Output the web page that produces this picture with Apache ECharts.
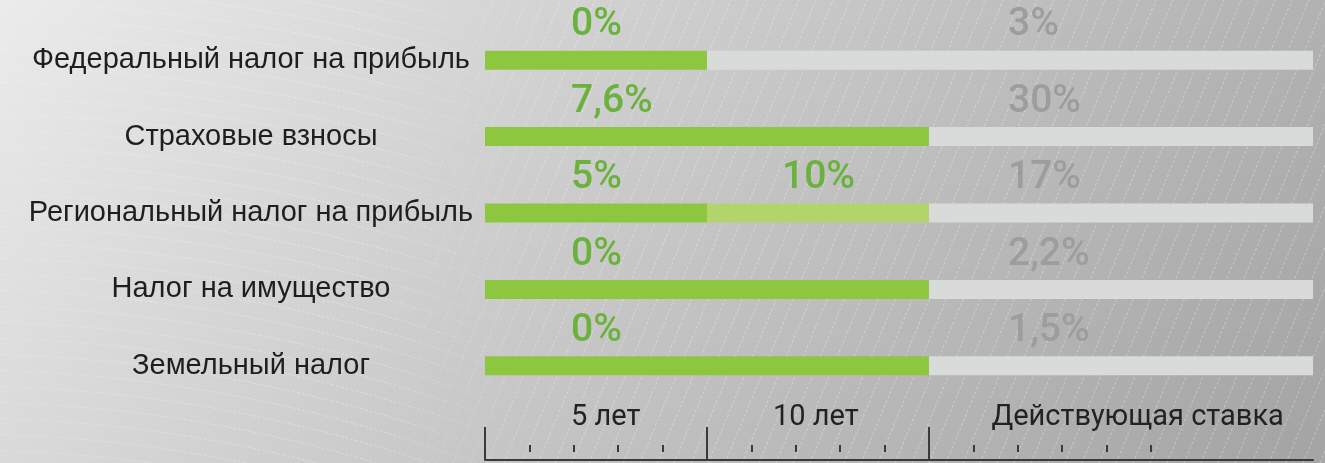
<!DOCTYPE html>
<html>
<head>
<meta charset="utf-8">
<script src="https://cdn.jsdelivr.net/npm/echarts@6/dist/echarts.min.js"></script>
<style>
  html, body { margin: 0; padding: 0; }
  #main { width: 1325px; height: 463px; }
</style>
</head>
<body>
<div id="main"></div>
<script>
// строки графика
var categories = ['Федеральный налог на прибыль', 'Страховые взносы', 'Региональный налог на прибыль', 'Налог на имущество', 'Земельный налог'];
// сколько лет действует льгота
var benefitYears = [5, 10, 10, 10, 10];
var firstRate = ['0%', '7,6%', '5%', '0%', '0%'];
var secondRate = ['', '', '10%', '', ''];
var currentRate = ['3%', '30%', '17%', '2,2%', '1,5%'];

// шкала в годах
var scaleEnd = 18.65;
var periodYears = [5, 5, scaleEnd - 10];
var majorTicks = [0, 5, 10];
var minorTicks = [1, 2, 3, 4, 6, 7, 8, 9, 11, 12, 13, 14, 15];
var periodLabels = ['5 лет', '10 лет', 'Действующая ставка'];
var periodLabelAt = [2.72, 7.45, 14.7];

var GREEN = '#8dc63f';
var LIGHT_GREEN = '#b3d46d';
var GRAY_BAR = '#d9dbda';
var GREEN_TEXT = '#6ab23c';
var GRAY_TEXT = '#9d9d9d';

var W = 1325, H = 463;

// фон: градиент, дуги слева и косая штриховка справа
var bg = document.createElement('canvas');
bg.width = W;
bg.height = H;
var ctx = bg.getContext('2d');
var grad = ctx.createLinearGradient(0, 0, W, H * 0.6);
grad.addColorStop(0, '#ebebeb');
grad.addColorStop(0.35, '#d6d6d6');
grad.addColorStop(0.7, '#c1c1c1');
grad.addColorStop(1, '#afafaf');
ctx.fillStyle = grad;
ctx.fillRect(0, 0, W, H);
var shade = ctx.createLinearGradient(0, 0, 0, H);
shade.addColorStop(0, 'rgba(0,0,0,0)');
shade.addColorStop(1, 'rgba(0,0,0,0.06)');
ctx.fillStyle = shade;
ctx.fillRect(0, 0, W, H);

ctx.lineWidth = 1;
ctx.setLineDash([3, 2]);
var arcStroke = ctx.createLinearGradient(0, 0, 520, 0);
arcStroke.addColorStop(0, 'rgba(255,255,255,0.2)');
arcStroke.addColorStop(0.7, 'rgba(255,255,255,0.35)');
arcStroke.addColorStop(1, 'rgba(255,255,255,0)');
ctx.strokeStyle = arcStroke;
for (var r = 1400; r < 1900; r += 16) {
  ctx.beginPath();
  ctx.arc(-40, 1850, r, -Math.PI / 2, -Math.PI / 2 + 0.4);
  ctx.stroke();
}

var hatchStroke = ctx.createLinearGradient(360, 0, 560, 0);
hatchStroke.addColorStop(0, 'rgba(255,255,255,0)');
hatchStroke.addColorStop(1, 'rgba(255,255,255,0.32)');
ctx.strokeStyle = hatchStroke;
for (var x0 = 300; x0 < W + 200; x0 += 17) {
  ctx.beginPath();
  ctx.moveTo(x0, H);
  ctx.lineTo(x0 + H / 2.4, 0);
  ctx.stroke();
}

var chart = echarts.init(document.getElementById('main'), null, { renderer: 'canvas' });

function stageData(stage) {
  return categories.map(function (c, i) {
    var color = GREEN;
    if (stage === 1) {
      if (benefitYears[i] < 10) color = GRAY_BAR;
      else if (secondRate[i]) color = LIGHT_GREEN;
    }
    if (stage === 2) color = GRAY_BAR;
    return { value: periodYears[stage], itemStyle: { color: color } };
  });
}

function rateLabel(arr, color, dx) {
  return {
    show: true,
    position: [dx, -25],
    align: 'left',
    verticalAlign: 'middle',
    fontFamily: 'Roboto',
    fontWeight: 500,
    fontSize: 39,
    color: color,
    formatter: function (p) { return arr[p.dataIndex]; }
  };
}

var option = {
  animation: false,
  graphic: [{
    type: 'image',
    silent: true,
    z: -10,
    style: { image: bg, x: 0, y: 0, width: W, height: H }
  }],
  grid: { left: 485, right: 12, top: 22, height: 382, containLabel: false },
  xAxis: [{
    type: 'value',
    position: 'bottom',
    min: 0,
    max: scaleEnd,
    offset: 56,
    splitLine: { show: false },
    axisLine: { show: true, lineStyle: { color: '#3a3a3a', width: 2 } },
    axisTick: { show: true, inside: true, length: 33, customValues: majorTicks, lineStyle: { color: '#3a3a3a', width: 2 } },
    axisLabel: {
      show: true,
      inside: true,
      margin: 42,
      verticalAlign: 'middle',
      customValues: periodLabelAt,
      fontFamily: 'Roboto',
      fontSize: 29,
      color: '#222',
      formatter: function (v) {
        var k = periodLabelAt.indexOf(v);
        return k >= 0 ? periodLabels[k] : '';
      }
    }
  }, {
    type: 'value',
    position: 'bottom',
    min: 0,
    max: scaleEnd,
    offset: 48,
    splitLine: { show: false },
    axisLine: { show: false },
    axisTick: { show: true, inside: true, length: 7, customValues: minorTicks, lineStyle: { color: '#3a3a3a', width: 2 } },
    axisLabel: { show: false }
  }],
  yAxis: {
    type: 'category',
    inverse: true,
    data: categories,
    axisLine: { show: false },
    axisTick: { show: false },
    axisLabel: {
      align: 'center',
      margin: 234,
      fontFamily: 'Liberation Sans',
      fontSize: 29,
      color: '#1e1e1e'
    }
  },
  series: [{
    type: 'bar',
    stack: 'all',
    barWidth: 19,
    data: stageData(0),
    label: rateLabel(firstRate, GREEN_TEXT, 86)
  }, {
    type: 'bar',
    stack: 'all',
    barWidth: 19,
    data: stageData(1),
    label: rateLabel(secondRate, GREEN_TEXT, 75)
  }, {
    type: 'bar',
    stack: 'all',
    barWidth: 19,
    data: stageData(2),
    label: rateLabel(currentRate, GRAY_TEXT, 79)
  }]
};

chart.setOption(option);
</script>
</body>
</html>
